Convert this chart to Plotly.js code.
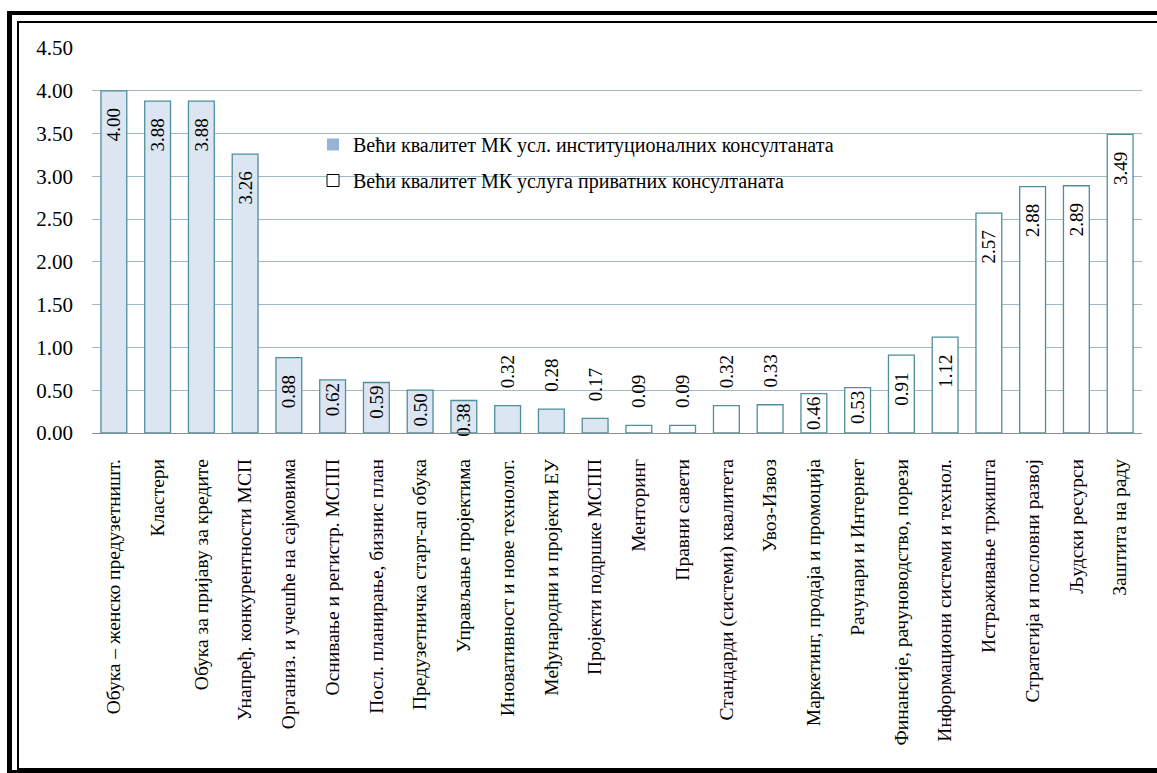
<!DOCTYPE html>
<html>
<head>
<meta charset="utf-8">
<script src="https://cdn.plot.ly/plotly-3.0.1.min.js"></script>
<style>
  html, body { margin: 0; padding: 0; background: #fff; overflow: hidden; }
  #chart { position: absolute; left: 0; top: 0; width: 1157px; height: 773px; }
  .frame { position: absolute; pointer-events: none; box-sizing: border-box; }
  #outer { left: 7px; top: 11px; width: 1200px; height: 762px; border-left: 5px solid #000; border-top: 4px solid #000; border-bottom: 3px solid #000; }
  #inner { left: 17px; top: 21px; width: 1200px; height: 749px; border-left: 2px solid #000; border-top: 2px solid #000; border-bottom: 2px solid #000; }
</style>
</head>
<body>
<div id="chart"></div>
<div id="outer" class="frame"></div>
<div id="inner" class="frame"></div>
<script>
// Categories served by institutional consultants (higher quality)
var instCategories = [
  "Обука – женско предузетништ.",
  "Кластери",
  "Обука за пријаву за кредите",
  "Унапређ. конкурентности МСП",
  "Организ. и учешће на сајмовима",
  "Оснивање и регистр. МСПП",
  "Посл. планирање, бизнис план",
  "Предузетничка старт-ап обука",
  "Управљање пројектима",
  "Иновативност и нове технолог.",
  "Међународни и пројекти ЕУ",
  "Пројекти подршке МСПП"
];
var instValues = [4.00, 3.88, 3.88, 3.26, 0.88, 0.62, 0.59, 0.50, 0.38, 0.32, 0.28, 0.17];

// Categories served by private consultants (higher quality)
var privCategories = [
  "Менторинг",
  "Правни савети",
  "Стандарди (системи) квалитета",
  "Увоз-Извоз",
  "Маркетинг, продаја и промоција",
  "Рачунари и Интернет",
  "Финансије, рачуноводство, порези",
  "Информациони системи и технол.",
  "Истраживање тржишта",
  "Стратегија и пословни развој",
  "Људски ресурси",
  "Заштита на раду"
];
var privValues = [0.09, 0.09, 0.32, 0.33, 0.46, 0.53, 0.91, 1.12, 2.57, 2.88, 2.89, 3.49];

var seriesNames = [
  "Већи квалитет МК усл. институционалних консултаната",
  "Већи квалитет МК услуга приватних консултаната"
];
var yTickValues = [0, 0.5, 1, 1.5, 2, 2.5, 3, 3.5, 4, 4.5];

var FONT = "Liberation Serif";
var EDGE = "#4f8e9c";
var NB = "\u00a0";

function labelPos(vals) {
  return vals.map(function (v) { return v >= 0.375 ? "inside" : "outside"; });
}
function labelTpl(vals) {
  return vals.map(function (v) {
    if (v < 0.375) return NB + NB + NB + "%{y:.2f}";      // outside: lifted above bar
    if (v >= 0.8) return "%{y:.2f}" + NB + NB + NB;       // inside: dropped below bar top
    return "%{y:.2f}";
  });
}

function barTrace(cats, vals, fill) {
  return {
    type: "bar",
    x: cats,
    y: vals,
    showlegend: false,
    marker: { color: fill, line: { color: EDGE, width: 1.3 } },
    texttemplate: labelTpl(vals),
    textposition: labelPos(vals),
    insidetextanchor: "end",
    textangle: -90,
    constraintext: "none",
    cliponaxis: false,
    textfont: { family: FONT, size: 19, color: "#000" },
    hoverinfo: "x+y"
  };
}

var traces = [
  barTrace(instCategories, instValues, "#dce6f2"),
  barTrace(privCategories, privValues, "#ffffff"),
  {
    type: "bar", x: [null], y: [null], name: seriesNames[0],
    legendgroup: "a",
    marker: { color: "#95b3d7", line: { width: 0 } }
  },
  {
    type: "bar", x: [null], y: [null], name: seriesNames[1],
    legendgroup: "b",
    marker: { color: "#ffffff", line: { color: "#000", width: 1 } }
  }
];

var layout = {
  width: 1157,
  height: 773,
  margin: { l: 92, r: 15, t: 48, b: 340, pad: 0 },
  paper_bgcolor: "#fff",
  plot_bgcolor: "#fff",
  barmode: "overlay",
  bargap: 0.41,
  font: { family: FONT, size: 19, color: "#000" },
  showlegend: true,
  legend: {
    x: 0.2105, xanchor: "left",
    y: 0.80, yanchor: "top",
    bgcolor: "rgba(0,0,0,0)",
    font: { family: FONT, size: 20, color: "#000" },
    traceorder: "grouped",
    tracegroupgap: 7,
    itemwidth: 30
  },
  xaxis: {
    type: "category",
    categoryorder: "array",
    categoryarray: instCategories.concat(privCategories),
    tickangle: -90,
    tickfont: { family: FONT, size: 19.5, color: "#000" },
    showgrid: false,
    showline: true,
    linecolor: "#8e8e8e",
    linewidth: 1.2,
    ticks: "",
    ticklabelstandoff: 17,
    fixedrange: true
  },
  yaxis: {
    range: [0, 4.5],
    tickvals: yTickValues,
    tickformat: ".2f",
    tickfont: { family: FONT, size: 21, color: "#000" },
    showgrid: true,
    gridcolor: "#9fb9c8",
    gridwidth: 1,
    zeroline: false,
    showline: false,
    ticks: "",
    ticklabelstandoff: 18,
    fixedrange: true
  }
};

Plotly.newPlot("chart", traces, layout, { displayModeBar: false, staticPlot: true });
</script>
</body>
</html>
